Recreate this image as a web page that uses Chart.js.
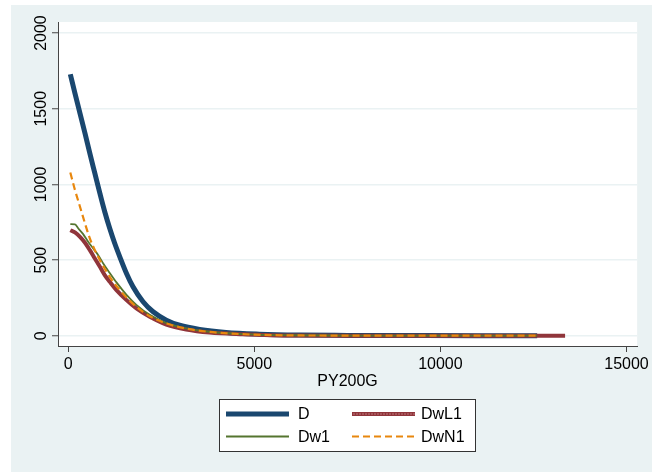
<!DOCTYPE html>
<html>
<head>
<meta charset="utf-8">
<script src="https://cdn.jsdelivr.net/npm/chart.js@4/dist/chart.umd.min.js"></script>
<style>
  html, body { margin: 0; padding: 0; background: #ffffff; }
  #wrap { width: 652px; height: 472px; }
</style>
</head>
<body>
<div id="wrap"><canvas id="chart" width="652" height="472"></canvas></div>
<script>
// values
const xTicks = [0, 5000, 10000, 15000];
const yTicks = [0, 500, 1000, 1500, 2000];

const xD = [55, 180, 315, 450, 580, 715, 850, 980, 1115, 1250, 1385, 1565, 1740, 2010, 2280, 2635, 2990, 3530, 4240, 5135, 6205, 7500, 9000, 11000, 12600];
const yD = [1728, 1602, 1469, 1337, 1205, 1073, 941, 820, 709, 610, 522, 412, 324, 225, 159, 104, 70, 42, 22, 11, 5, 3, 2, 1, 1];

const xDwL1 = [55, 180, 315, 450, 580, 715, 850, 980, 1115, 1295, 1565, 1830, 2190, 2635, 3170, 3795, 4690, 6030, 7500, 9000, 11000, 13350];
const yDwL1 = [698, 683, 654, 615, 566, 511, 456, 401, 357, 302, 236, 181, 126, 75, 42, 22, 11, 2, 1, 1, 0, 0];

const xDw1 = [55, 180, 270, 400, 535, 670, 805, 940, 1115, 1295, 1565, 1830, 2190, 2635, 3170, 3795, 4690, 6030, 7500, 9000, 11000, 12600];
const yDw1 = [738, 736, 709, 672, 621, 577, 533, 478, 415, 353, 271, 205, 139, 84, 49, 27, 12, 4, 2, 1, 1, 1];

const xDwN1 = [55, 180, 315, 450, 580, 715, 850, 1030, 1205, 1385, 1565, 1830, 2190, 2635, 3170, 3795, 4690, 6030, 7500, 9000, 11000, 12600];
const yDwN1 = [1079, 963, 853, 742, 643, 566, 500, 423, 357, 302, 253, 192, 130, 82, 48, 26, 11, 3, 2, 1, 1, 1];

const FONT = "'Liberation Sans', Arial, sans-serif";
const BG = '#eaf2f3';
const AXIS = '#444444';

function pairs(xs, ys) {
  return xs.map((x, i) => ({ x: x, y: ys[i] }));
}

// Stata-like backdrop: bluish graph region, white plot region
const backdrop = {
  id: 'backdrop',
  beforeDraw(chart) {
    const ctx = chart.ctx;
    const a = chart.chartArea;
    ctx.save();
    ctx.fillStyle = '#ffffff';
    ctx.fillRect(0, 0, chart.width, chart.height);
    ctx.fillStyle = BG;
    ctx.fillRect(11, 5, chart.width - 11, chart.height - 5);
    ctx.fillStyle = '#ffffff';
    ctx.fillRect(a.left, a.top, a.right - a.left, a.bottom - a.top);
    ctx.restore();
  }
};

// boxed two-column legend under the axis title
const boxLegend = {
  id: 'boxLegend',
  afterDraw(chart) {
    const ctx = chart.ctx;
    const sets = chart.data.datasets;
    ctx.save();
    ctx.fillStyle = '#ffffff';
    ctx.fillRect(219.5, 399.5, 256, 52);
    ctx.strokeStyle = '#333333';
    ctx.lineWidth = 1;
    ctx.strokeRect(219.5, 399.5, 256, 52);

    const cols = [226, 352];
    const rows = [414, 436.5];
    const lineLen = 63;
    sets.forEach((ds, i) => {
      const cx = cols[i % 2];
      const cy = rows[Math.floor(i / 2)];
      ctx.strokeStyle = ds.borderColor;
      ctx.lineWidth = ds.borderWidth;
      ctx.setLineDash(ds.borderDash || []);
      ctx.lineCap = 'butt';
      ctx.beginPath();
      ctx.moveTo(cx, cy);
      ctx.lineTo(cx + lineLen, cy);
      ctx.stroke();
      ctx.setLineDash([]);
      if (ds.label === 'DwL1') {
        ctx.fillStyle = 'rgba(255,220,220,0.8)';
        for (let px = cx + 1.5; px < cx + lineLen; px += 3) {
          ctx.fillRect(px, cy - 0.5, 1, 1);
        }
      }
      ctx.fillStyle = '#000000';
      ctx.font = '16px ' + FONT;
      ctx.textAlign = 'left';
      ctx.textBaseline = 'middle';
      ctx.fillText(ds.label, cx + lineLen + (i % 2 === 0 ? 9 : 6), cy + 1);
    });
    ctx.restore();
  }
};

const ctx = document.getElementById('chart').getContext('2d');
new Chart(ctx, {
  type: 'line',
  data: {
    datasets: [
      { label: 'D', data: pairs(xD, yD), borderColor: '#1a476f', borderWidth: 5, order: 4 },
      { label: 'DwL1', data: pairs(xDwL1, yDwL1), borderColor: '#90353b', borderWidth: 4, order: 3 },
      { label: 'Dw1', data: pairs(xDw1, yDw1), borderColor: '#55752f', borderWidth: 1.8, order: 2 },
      { label: 'DwN1', data: pairs(xDwN1, yDwN1), borderColor: '#e8870e', borderWidth: 2.2, borderDash: [7, 4], order: 1 }
    ]
  },
  options: {
    responsive: false,
    animation: false,
    elements: {
      point: { radius: 0 },
      line: { fill: false, cubicInterpolationMode: 'monotone', borderCapStyle: 'butt' }
    },
    layout: { padding: { left: 11, right: 14, top: 22, bottom: 81 } },
    plugins: {
      legend: { display: false },
      tooltip: { enabled: false }
    },
    scales: {
      x: {
        type: 'linear',
        position: 'bottom',
        min: -276,
        max: 15286,
        afterBuildTicks: (s) => { s.ticks = xTicks.map(v => ({ value: v })); },
        afterFit: (s) => { s.height = 45; },
        grid: { drawOnChartArea: false, tickLength: 6, tickColor: AXIS, tickWidth: 1 },
        border: { color: AXIS, width: 1 },
        ticks: { color: '#000', font: { family: FONT, size: 16 }, padding: 3, maxRotation: 0, callback: (v) => String(v) },
        title: { display: true, text: 'PY200G', color: '#000', font: { family: FONT, size: 16 }, padding: { top: 0, bottom: 0 } }
      },
      y: {
        type: 'linear',
        min: -67,
        max: 2073,
        afterBuildTicks: (s) => { s.ticks = yTicks.map(v => ({ value: v })); },
        afterFit: (s) => { s.width = 47; },
        grid: { color: BG, lineWidth: 1.5, tickLength: 6, tickColor: AXIS, tickWidth: 1 },
        border: { color: AXIS, width: 1 },
        ticks: { color: '#000', font: { family: FONT, size: 16 }, padding: -7, minRotation: 90, maxRotation: 90, crossAlign: 'center', callback: (v) => String(v) }
      }
    }
  },
  plugins: [backdrop, boxLegend]
});
</script>
</body>
</html>
